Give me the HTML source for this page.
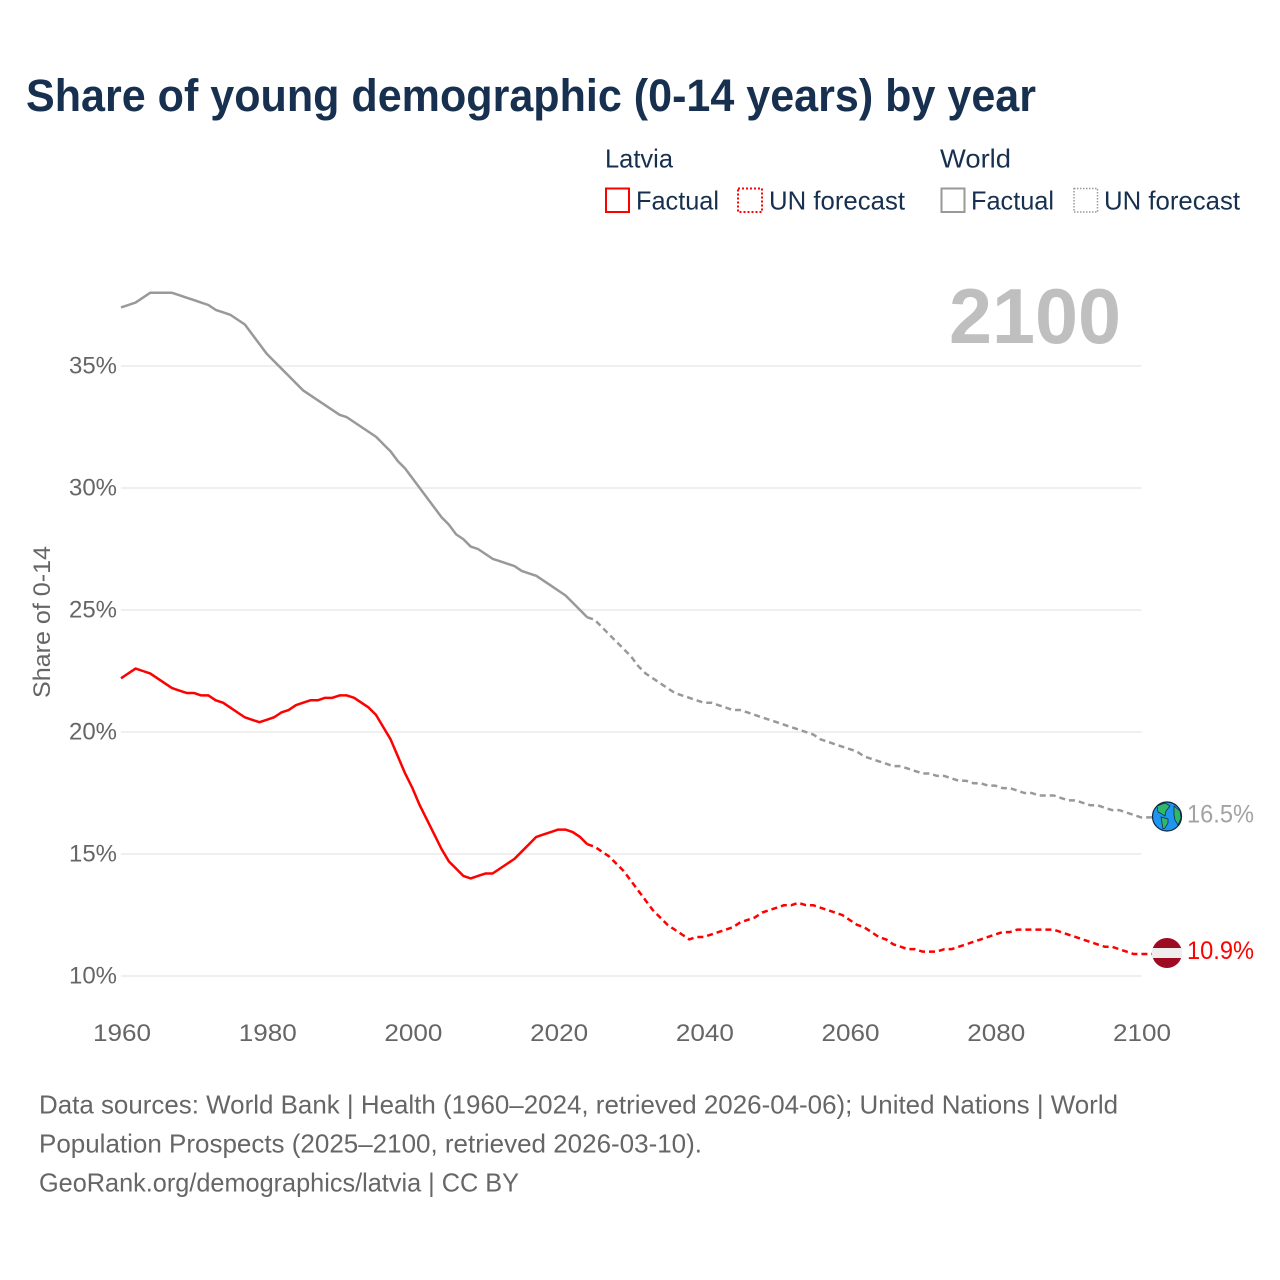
<!DOCTYPE html>
<html lang="en">
<head>
<meta charset="utf-8">
<title>Share of young demographic (0-14 years) by year</title>
<style>
html,body{margin:0;padding:0;background:#fff;}
svg{display:block;}
text{font-family:"Liberation Sans",sans-serif;}
</style>
</head>
<body>
<svg id="chart" xmlns="http://www.w3.org/2000/svg" width="1280" height="1280" viewBox="0 0 1280 1280">
  <rect width="1280" height="1280" fill="#fff"/>
  <text x="26" y="111" font-size="45" font-weight="700" fill="#17304f" textLength="1010" lengthAdjust="spacingAndGlyphs">Share of young demographic (0-14 years) by year</text>

  <g font-size="26" fill="#17304f">
    <text x="605" y="167.500" textLength="68" lengthAdjust="spacingAndGlyphs">Latvia</text>
    <text x="940" y="167.500" textLength="71" lengthAdjust="spacingAndGlyphs">World</text>
    <rect x="606" y="188.500" width="23" height="23.500" fill="none" stroke="#ff0000" stroke-width="2"/>
    <text x="636" y="209.500" textLength="83" lengthAdjust="spacingAndGlyphs">Factual</text>
    <rect x="738" y="188.500" width="24" height="23.500" fill="none" stroke="#ff0000" stroke-width="2" stroke-dasharray="2 2"/>
    <text x="769" y="209.500" textLength="136" lengthAdjust="spacingAndGlyphs">UN forecast</text>
    <rect x="941.500" y="188.500" width="23" height="23.500" fill="none" stroke="#999999" stroke-width="2"/>
    <text x="971" y="209.500" textLength="83" lengthAdjust="spacingAndGlyphs">Factual</text>
    <rect x="1074" y="188.500" width="23.500" height="23.500" fill="none" stroke="#999999" stroke-width="1.500" stroke-dasharray="1.500 1.500"/>
    <text x="1104" y="209.500" textLength="136" lengthAdjust="spacingAndGlyphs">UN forecast</text>
  </g>

  <g id="grid"></g>
  <g id="yticks"></g>
  <g id="xticks"></g>
  <text transform="translate(50,622) rotate(-90)" text-anchor="middle" font-size="24" fill="#666666" textLength="152" lengthAdjust="spacingAndGlyphs">Share of 0-14</text>
  <text x="949" y="343" font-size="78" font-weight="700" fill="#bfbfbf" textLength="172" lengthAdjust="spacingAndGlyphs">2100</text>

  <g id="series"></g>

  <g>
    <circle cx="1167" cy="816.500" r="14.500" fill="#1e96f0" stroke="#10233a" stroke-width="1.200"/>
    <path d="M1157 806 L1165 803 L1170 806 L1166 811 L1165 816 L1162 814 L1158 812 Z" fill="#2fb86a" stroke="#10233a" stroke-width="0.700"/>
    <path d="M1161 817 L1168 819 L1168 823 L1165 828 L1163 829 L1162 823 Z" fill="#2fb86a" stroke="#10233a" stroke-width="0.700"/>
    <path d="M1174 806 L1180 811 L1181 818 L1178 825 L1175 820 L1174 815 Z" fill="#2fb86a" stroke="#10233a" stroke-width="0.700"/>
  </g>
  <g>
    <circle cx="1167" cy="953" r="15" fill="#9e0a22"/>
    <rect x="1152" y="948" width="30" height="10" fill="#eeeeee"/>
  </g>
  <text x="1187" y="822.500" font-size="25" fill="#a3a3a3" textLength="67" lengthAdjust="spacingAndGlyphs">16.5%</text>
  <text x="1187" y="959" font-size="25" fill="#ff0000" textLength="67" lengthAdjust="spacingAndGlyphs">10.9%</text>

  <g font-size="26" fill="#666666">
    <text x="39" y="1113.500" textLength="1079" lengthAdjust="spacingAndGlyphs">Data sources: World Bank | Health (1960–2024, retrieved 2026-04-06); United Nations | World</text>
    <text x="39" y="1152.500" textLength="663" lengthAdjust="spacingAndGlyphs">Population Prospects (2025–2100, retrieved 2026-03-10).</text>
    <text x="39" y="1191.500" textLength="480" lengthAdjust="spacingAndGlyphs">GeoRank.org/demographics/latvia | CC BY</text>
  </g>
</svg>
<script>
const yTickValues = [10, 15, 20, 25, 30, 35];
const yTickLabels = ["10%", "15%", "20%", "25%", "30%", "35%"];
const xTickYears = [1960, 1980, 2000, 2020, 2040, 2060, 2080, 2100];
const factualStartYear = 1960;
const forecastStartYear = 2024;
const worldFactual = [37.4,37.5,37.6,37.8,38.0,38.0,38.0,38.0,37.9,37.8,37.7,37.6,37.5,37.3,37.2,37.1,36.9,36.7,36.3,35.9,35.5,35.2,34.9,34.6,34.3,34.0,33.8,33.6,33.4,33.2,33.0,32.9,32.7,32.5,32.3,32.1,31.8,31.5,31.1,30.8,30.4,30.0,29.6,29.2,28.8,28.5,28.1,27.9,27.6,27.5,27.3,27.1,27.0,26.9,26.8,26.6,26.5,26.4,26.2,26.0,25.8,25.6,25.3,25.0,24.7];
const worldForecast = [24.7,24.6,24.3,24.0,23.7,23.4,23.1,22.7,22.4,22.2,22.0,21.8,21.6,21.5,21.4,21.3,21.2,21.2,21.1,21.0,20.9,20.9,20.8,20.7,20.6,20.5,20.4,20.3,20.2,20.1,20.0,19.9,19.7,19.6,19.5,19.4,19.3,19.2,19.0,18.9,18.8,18.7,18.6,18.6,18.5,18.4,18.3,18.3,18.2,18.2,18.1,18.0,18.0,17.9,17.9,17.8,17.8,17.7,17.7,17.6,17.5,17.5,17.4,17.4,17.4,17.3,17.2,17.2,17.1,17.0,17.0,16.9,16.8,16.8,16.7,16.6,16.5];
const latviaFactual = [22.2,22.4,22.6,22.5,22.4,22.2,22.0,21.8,21.7,21.6,21.6,21.5,21.5,21.3,21.2,21.0,20.8,20.6,20.5,20.4,20.5,20.6,20.8,20.9,21.1,21.2,21.3,21.3,21.4,21.4,21.5,21.5,21.4,21.2,21.0,20.7,20.2,19.7,19.0,18.3,17.7,17.0,16.4,15.8,15.2,14.7,14.4,14.1,14.0,14.1,14.2,14.2,14.4,14.6,14.8,15.1,15.4,15.7,15.8,15.9,16.0,16.0,15.9,15.7,15.4];
const latviaForecast = [15.4,15.3,15.1,14.9,14.6,14.3,13.9,13.5,13.1,12.7,12.4,12.1,11.9,11.7,11.5,11.6,11.6,11.7,11.8,11.9,12.0,12.2,12.3,12.4,12.6,12.7,12.8,12.9,12.9,13.0,12.9,12.9,12.8,12.7,12.6,12.5,12.3,12.1,12.0,11.8,11.6,11.5,11.3,11.2,11.1,11.1,11.0,11.0,11.0,11.1,11.1,11.2,11.3,11.4,11.5,11.6,11.7,11.8,11.8,11.9,11.9,11.9,11.9,11.9,11.9,11.8,11.7,11.6,11.5,11.4,11.3,11.2,11.2,11.1,11.0,10.9,10.9];

const NS = 'http://www.w3.org/2000/svg';
function xScale(year) { return 121 + (year - 1960) * (1020 / 140); }
function yScale(pct) { return 976 - (pct - 10) * 24.4; }
function pathFor(values, startYear) {
  return values.map(function (v, i) {
    return (i ? 'L' : 'M') + xScale(startYear + i).toFixed(2) + ' ' + yScale(v).toFixed(2);
  }).join(' ');
}
const gridGroup = document.getElementById('grid');
const yGroup = document.getElementById('yticks');
const xGroup = document.getElementById('xticks');
const seriesGroup = document.getElementById('series');

yTickValues.forEach(function (v, i) {
  const line = document.createElementNS(NS, 'line');
  
  
  line.setAttribute('x1', 121);
  line.setAttribute('x2', 1141.5);
  line.setAttribute('y1', yScale(v));
  line.setAttribute('y2', yScale(v));
  line.setAttribute('stroke', '#eaeaea');
  line.setAttribute('stroke-width', 1.5);
  gridGroup.appendChild(line);
  const label = document.createElementNS(NS, 'text');
  
  
  label.setAttribute('x', 69);
  label.setAttribute('y', yScale(v) + 7.5);
  label.setAttribute('font-size', 24);
  label.setAttribute('fill', '#666666');
  label.setAttribute('textLength', 48);
  label.setAttribute('lengthAdjust', 'spacingAndGlyphs');
  label.textContent = yTickLabels[i];
  yGroup.appendChild(label);
});

xTickYears.forEach(function (year) {
  const label = document.createElementNS(NS, 'text');
  
  
  label.setAttribute('x', xScale(year) - 28);
  label.setAttribute('y', 1041);
  label.setAttribute('font-size', 24);
  label.setAttribute('fill', '#666666');
  label.setAttribute('textLength', 58);
  label.setAttribute('lengthAdjust', 'spacingAndGlyphs');
  label.textContent = String(year);
  xGroup.appendChild(label);
});

function addLine(name, values, startYear, color, dash) {
  const p = document.createElementNS(NS, 'path');
  
  
  let d = pathFor(values, startYear);
  if (dash) d += ' L1152 ' + yScale(values[values.length - 1]).toFixed(2);
  p.setAttribute('d', d);
  p.setAttribute('fill', 'none');
  p.setAttribute('stroke', color);
  p.setAttribute('stroke-width', 2.5);
  p.setAttribute('stroke-linejoin', 'round');
  if (dash) p.setAttribute('stroke-dasharray', dash);
  seriesGroup.appendChild(p);
}
addLine('world-factual-line', worldFactual, factualStartYear, '#999999', null);
addLine('world-forecast-line', worldForecast, forecastStartYear, '#999999', '6 4');
addLine('latvia-factual-line', latviaFactual, factualStartYear, '#ff0000', null);
addLine('latvia-forecast-line', latviaForecast, forecastStartYear, '#ff0000', '6 4');
</script>
</body>
</html>
